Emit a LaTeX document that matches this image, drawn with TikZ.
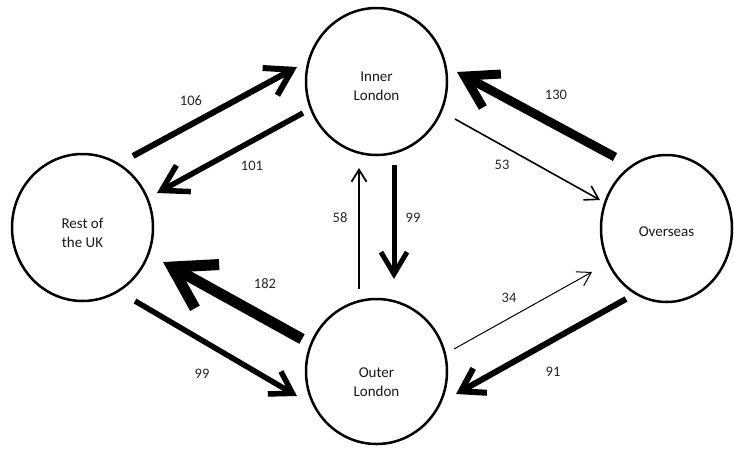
\documentclass[tikz,border=0pt]{standalone}
\usepackage{fontspec}
\setmainfont{Carlito}
\usetikzlibrary{arrows.meta,shapes.geometric}

% invisible strut that lowers the text inside a place
\newcommand{\lowerby}[1]{\rule{0pt}{#1}}

\tikzset{
  place/.style={draw=black,ellipse,line width=2.5pt,minimum width=141pt,minimum height=147pt,inner sep=0pt,align=center,font=\fontsize{15}{19}\selectfont,text=black!90},
  flow/.style n args={3}{line width=#1,-{Straight Barb[length=#2,width=#3]}},
  num/.style={font=\fontsize{14.5}{17}\selectfont,text=black!85,inner sep=0pt}
}

\begin{document}
\begin{tikzpicture}[x=1pt,y=-1pt]
\useasboundingbox (0,0) rectangle (734,448);
% places
\node[place] (inl) at (376.5,81.5) {\lowerby{19.5pt}Inner\\London};
\node[place] (ruk) at (82.5,227.5) {\lowerby{20.5pt}Rest of\\the UK};
\node[place,minimum width=131pt] (ovs) at (666.5,228.5) {\lowerby{16pt}Overseas};
\node[place,minimum height=145pt] (outl) at (376.5,371.5) {\lowerby{31pt}Outer\\London};
% flows
\draw[flow={6pt}{25pt}{31pt}] ([shift={(50.5,-71.5)}]ruk.center) -- ([shift={(-79.5,-14.5)}]inl.center);
\draw[flow={5.5pt}{25pt}{30pt}] ([shift={(-73.5,31.5)}]inl.center) -- ([shift={(74.5,-34.5)}]ruk.center);
\draw[flow={9pt}{31pt}{38pt}] ([shift={(-51.5,-71.5)}]ovs.center) -- ([shift={(80.5,-9.5)}]inl.center);
\draw[flow={1.6pt}{13pt}{16pt}] ([shift={(78.5,37.5)}]inl.center) -- ([shift={(-66.5,-28.5)}]ovs.center);
\draw[flow={1.8pt}{12pt}{15pt}] ([shift={(-17.5,-82.5)}]outl.center) -- ([shift={(-17.5,86.5)}]inl.center);
\draw[flow={5pt}{22pt}{26pt}] ([shift={(17.5,83.5)}]inl.center) -- ([shift={(17.5,-92.5)}]outl.center);
\draw[flow={11pt}{40pt}{50pt}] ([shift={(-74.5,-32.5)}]outl.center) -- ([shift={(80.5,34.5)}]ruk.center);
\draw[flow={5.5pt}{21pt}{26pt}] ([shift={(52.5,73.5)}]ruk.center) -- ([shift={(-79.5,24.5)}]outl.center);
\draw[flow={1pt}{13pt}{16pt}] ([shift={(77.5,-22.5)}]outl.center) -- ([shift={(-74.5,43.5)}]ovs.center);
\draw[flow={6pt}{22pt}{28pt}] ([shift={(-40.5,70.5)}]ovs.center) -- ([shift={(79.5,22.5)}]outl.center);
% numbers
\node[num] (n106) at (191,101) {106};
\node[num] (n101) at (252,166) {101};
\node[num] (n130) at (556,95) {130};
\node[num] (n53) at (502,165) {53};
\node[num] (n58) at (340,218) {58};
\node[num] (n99a) at (413,218) {99};
\node[num] (n182) at (265,284) {182};
\node[num] (n99b) at (202,374) {99};
\node[num] (n34) at (509,298) {34};
\node[num] (n91) at (553,372) {91};
\end{tikzpicture}
\end{document}
